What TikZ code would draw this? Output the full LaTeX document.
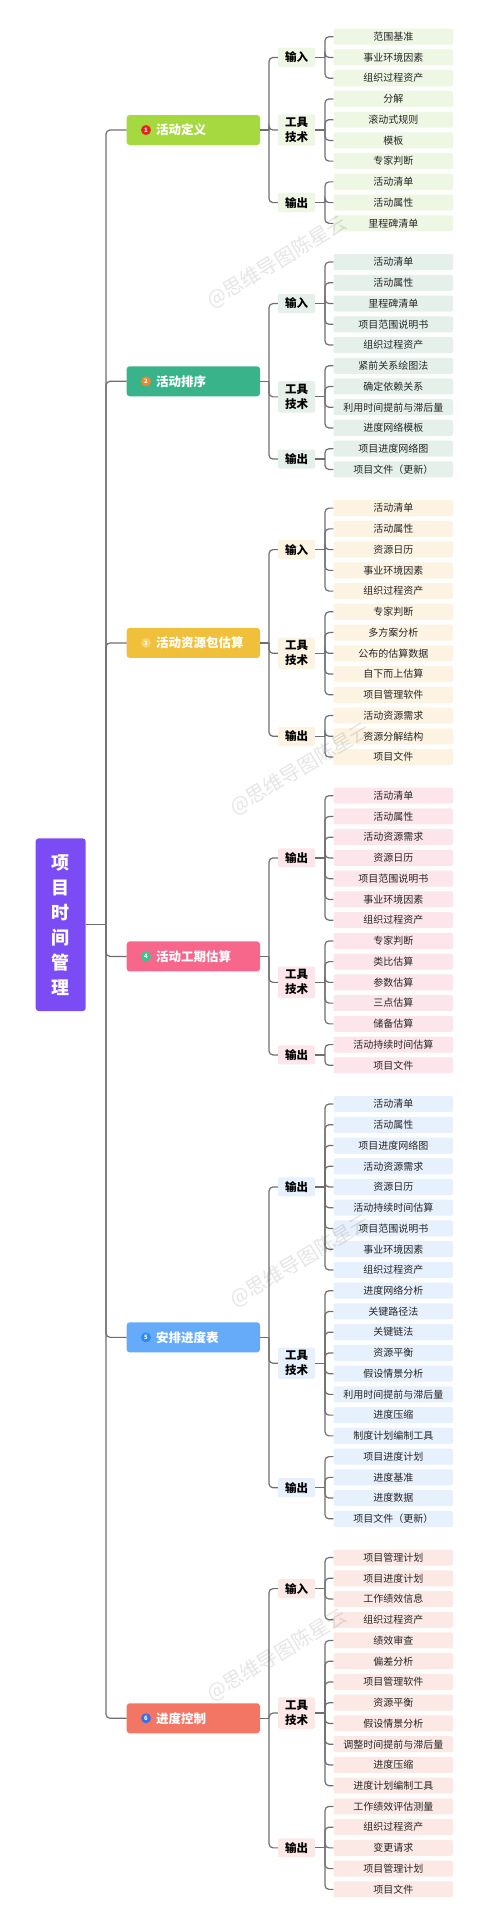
\documentclass[tikz,border=0pt]{standalone}
\usepackage{fontspec}
\setmainfont{Noto Sans CJK SC}
\usetikzlibrary{calc}
\definecolor{linegray}{HTML}{6F6F6F}
\definecolor{rootc}{HTML}{7B4CF4}
\definecolor{m1c}{HTML}{A6D83F}\definecolor{l1c}{HTML}{EEF6E4}
\definecolor{m2c}{HTML}{39B38A}\definecolor{l2c}{HTML}{E5F0EB}
\definecolor{m3c}{HTML}{F0C03B}\definecolor{l3c}{HTML}{FCF3E3}
\definecolor{m4c}{HTML}{F7678B}\definecolor{l4c}{HTML}{FDE6EB}
\definecolor{m5c}{HTML}{66ABF9}\definecolor{l5c}{HTML}{E7F0FD}
\definecolor{m6c}{HTML}{F27663}\definecolor{l6c}{HTML}{FCE9E6}
\definecolor{b1c}{HTML}{E3261B}
\definecolor{b2c}{HTML}{F5842B}
\definecolor{b3c}{HTML}{F7D067}
\definecolor{b4c}{HTML}{33C98A}
\definecolor{b5c}{HTML}{2A8CF0}
\definecolor{b6c}{HTML}{3A6FE8}
\tikzset{
  leaf/.style={rectangle, rounded corners=2pt, minimum width=119.5pt, minimum height=16pt,
    inner sep=0pt, text=black!85, font=\fontsize{10}{12}\selectfont},
  catbox/.style={rectangle, rounded corners=2pt, minimum width=37pt, minimum height=19pt,
    inner xsep=0pt, inner ysep=3pt, align=center, text=black,
    font=\fontsize{11.5}{15}\selectfont\bfseries},
  mainbox/.style={rectangle, rounded corners=3pt, minimum width=133.3pt, minimum height=30pt, inner sep=0pt},
  maintext/.style={inner sep=0pt, text=white, font=\fontsize{12.5}{15}\selectfont\bfseries},
  badge/.style={circle, minimum size=10pt, inner sep=0pt, text=white, font=\fontsize{6}{6}\selectfont\bfseries},
  rootbox/.style={rectangle, rounded corners=3pt, minimum width=50pt, minimum height=172.7pt,
    inner sep=0pt, fill=rootc, text=white, align=center, font=\fontsize{18}{25}\selectfont\bfseries},
  conn/.style={draw=linegray, line width=1.2pt, rounded corners=4pt},
  wm/.style={inner sep=0pt, text=black, opacity=0.1, font=\fontsize{20}{20}\selectfont},
}
% #1 group, #2 category id, #3 label, #4 first global leaf index, #5 leaf list, #6 colour
\newcommand\DoCat[6]{%
  \foreach \lbl [count=\i from 0] in {#5} {%
    \pgfmathsetmacro\yy{36.7+(#4+\i)*20.74+(#1-1)*17.95}
    \node[leaf, fill=#6] (g#1#2l\i) at (393.25,\yy) {\lbl};
    \xdef\lastI{\i}%
  }
  \coordinate (g#1#2mid) at ($(g#1#2l0)!0.5!(g#1#2l\lastI)$);
  \node[catbox, fill=#6] (g#1#2) at (296.5,0 |- g#1#2mid) {#3};
  \coordinate (k#1#2) at (325,0 |- g#1#2mid);
  \draw[conn] (g#1#2.east) -- (k#1#2);
  \foreach \j in {0,...,\lastI} \draw[conn] (k#1#2) |- (g#1#2l\j.west);
}
% #1 group, #2 main colour, #3 badge colour, #4 number, #5 text
\newcommand\DoMain[5]{%
  \coordinate (g#1mid) at ($(g#1a)!0.5!(g#1c)$);
  \node[mainbox, fill=#2] (m#1) at (193.35,0 |- g#1mid) {};
  \node[badge, fill=#3] (b#1) at (146,0 |- g#1mid) {#4};
  \node[maintext, anchor=west] (t#1) at (156,0 |- g#1mid) {#5};
  \coordinate (j#1) at (269,0 |- g#1mid);
  \draw[conn] (m#1.east) -- (j#1);
  \foreach \c in {a,b,c} \draw[conn] (j#1) |- (g#1\c.west);
}
\begin{document}
\begin{tikzpicture}[x=1pt,y=-1pt]
\fill[white] (0,0) rectangle (500,1927);
\useasboundingbox (0,0) rectangle (500,1927);

% group 1
\DoCat{1}{a}{输入}{0}{范围基准,事业环境因素,组织过程资产}{l1c}
\DoCat{1}{b}{工具\\技术}{3}{分解,滚动式规则,模板,专家判断}{l1c}
\DoCat{1}{c}{输出}{7}{活动清单,活动属性,里程碑清单}{l1c}
\DoMain{1}{m1c}{b1c}{1}{活动定义}

% group 2
\DoCat{2}{a}{输入}{10}{活动清单,活动属性,里程碑清单,项目范围说明书,组织过程资产}{l2c}
\DoCat{2}{b}{工具\\技术}{15}{紧前关系绘图法,确定依赖关系,利用时间提前与滞后量,进度网络模板}{l2c}
\DoCat{2}{c}{输出}{19}{项目进度网络图,项目文件（更新）}{l2c}
\DoMain{2}{m2c}{b2c}{2}{活动排序}

% group 3
\DoCat{3}{a}{输入}{21}{活动清单,活动属性,资源日历,事业环境因素,组织过程资产}{l3c}
\DoCat{3}{b}{工具\\技术}{26}{专家判断,多方案分析,公布的估算数据,自下而上估算,项目管理软件}{l3c}
\DoCat{3}{c}{输出}{31}{活动资源需求,资源分解结构,项目文件}{l3c}
\DoMain{3}{m3c}{b3c}{3}{活动资源包估算}

% group 4
\DoCat{4}{a}{输出}{34}{活动清单,活动属性,活动资源需求,资源日历,项目范围说明书,事业环境因素,组织过程资产}{l4c}
\DoCat{4}{b}{工具\\技术}{41}{专家判断,类比估算,参数估算,三点估算,储备估算}{l4c}
\DoCat{4}{c}{输出}{46}{活动持续时间估算,项目文件}{l4c}
\DoMain{4}{m4c}{b4c}{4}{活动工期估算}

% group 5
\DoCat{5}{a}{输出}{48}{活动清单,活动属性,项目进度网络图,活动资源需求,资源日历,活动持续时间估算,项目范围说明书,事业环境因素,组织过程资产}{l5c}
\DoCat{5}{b}{工具\\技术}{57}{进度网络分析,关键路径法,关键链法,资源平衡,假设情景分析,利用时间提前与滞后量,进度压缩,制度计划编制工具}{l5c}
\DoCat{5}{c}{输出}{65}{项目进度计划,进度基准,进度数据,项目文件（更新）}{l5c}
\DoMain{5}{m5c}{b5c}{5}{安排进度表}

% group 6
\DoCat{6}{a}{输入}{69}{项目管理计划,项目进度计划,工作绩效信息,组织过程资产}{l6c}
\DoCat{6}{b}{工具\\技术}{73}{绩效审查,偏差分析,项目管理软件,资源平衡,假设情景分析,调整时间提前与滞后量,进度压缩,进度计划编制工具}{l6c}
\DoCat{6}{c}{输出}{81}{工作绩效评估测量,组织过程资产,变更请求,项目管理计划,项目文件}{l6c}
\DoMain{6}{m6c}{b6c}{6}{进度控制}

% root
\node[rootbox] (root) at (60.7,924.7) {项\\目\\时\\间\\管\\理};
\coordinate (trunk) at (106,0 |- root);
\draw[conn] (root.east) -- (trunk);
\foreach \m in {1,...,6} \draw[conn] (trunk) |- (m\m.west);

% watermarks
\node[wm, rotate=31] (wm1) at (277,262) {@思维导图陈星云};
\node[wm, rotate=31] (wm2) at (300,769) {@思维导图陈星云};
\node[wm, rotate=31] (wm3) at (300,1261) {@思维导图陈星云};
\node[wm, rotate=31] (wm4) at (277,1655) {@思维导图陈星云};
\end{tikzpicture}
\end{document}
